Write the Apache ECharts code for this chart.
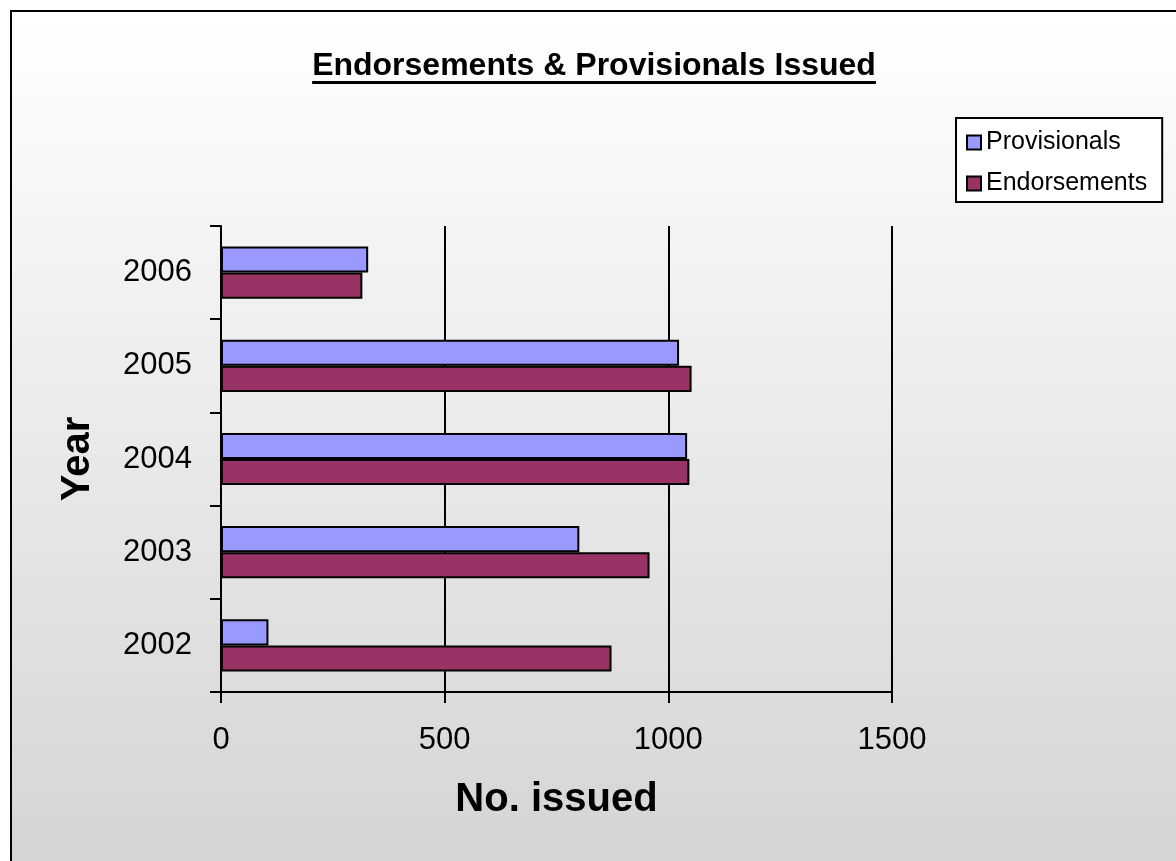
<!DOCTYPE html>
<html>
<head>
<meta charset="utf-8">
<style>
  html, body { margin: 0; padding: 0; background: #ffffff; }
  #chart { width: 1176px; height: 861px; }
</style>
<script src="https://cdn.jsdelivr.net/npm/echarts@6/dist/echarts.min.js"></script>
</head>
<body>
<div id="chart"></div>
<script>
// ---- Data ----
const years = ['2002', '2003', '2004', '2005', '2006'];
const provisionals = [106, 801, 1042, 1024, 329];
const endorsements = [873, 958, 1047, 1052, 316];
const xTicks = [0, 500, 1000, 1500];
const titleText = 'Endorsements & Provisionals Issued';

const FONT = '"Liberation Sans", Arial, sans-serif';

// measure title width for the underline
const mc = document.createElement('canvas').getContext('2d');
mc.font = 'bold 32px ' + FONT;
const titleW = mc.measureText(titleText).width;
const titleCX = 594;

const chart = echarts.init(document.getElementById('chart'), null, { renderer: 'canvas' });

chart.setOption({
  animation: false,
  backgroundColor: '#ffffff',
  graphic: [
    {
      type: 'rect', z: -10, silent: true,
      shape: { x: 11, y: 11, width: 1200, height: 900 },
      style: {
        fill: new echarts.graphic.LinearGradient(0, 0, 0, 1, [
          { offset: 0, color: '#ffffff' },
          { offset: 1, color: '#d2d2d2' }
        ]),
        stroke: '#000000', lineWidth: 2
      }
    },
    {
      type: 'text', z: 10,
      left: titleCX - titleW / 2, top: 50,
      style: { text: titleText, font: 'bold 32px ' + FONT, fill: '#000000' }
    },
    {
      type: 'rect', z: 10,
      shape: { x: titleCX - titleW / 2, y: 81, width: titleW, height: 3 },
      style: { fill: '#000000' }
    }
  ],
  legend: {
    data: ['Provisionals', 'Endorsements'],
    orient: 'vertical',
    left: 956, top: 118,
    padding: [12, 15, 6, 10],
    backgroundColor: '#ffffff',
    borderColor: '#000000', borderWidth: 2,
    itemWidth: 14, itemHeight: 14, itemGap: 16,
    itemTextGap: 9,
    icon: 'rect',
    itemStyle: { borderColor: '#000000', borderWidth: 2 },
    textStyle: { fontFamily: FONT, fontSize: 25, color: '#000000', lineHeight: 25 }
  },
  grid: { left: 221, right: 284, top: 226, bottom: 169, containLabel: false },
  xAxis: {
    type: 'value',
    min: xTicks[0], max: xTicks[xTicks.length - 1], interval: xTicks[1] - xTicks[0],
    name: 'No. issued', nameLocation: 'middle', nameGap: 88,
    nameTextStyle: { fontFamily: FONT, fontSize: 40, fontWeight: 'bold', color: '#000000', lineHeight: 40 },
    axisLine: { show: true, lineStyle: { color: '#000000', width: 2 } },
    axisTick: { show: true, length: 11, lineStyle: { color: '#000000', width: 2 } },
    axisLabel: {
      fontFamily: FONT, fontSize: 31, color: '#000000', margin: 33, lineHeight: 31,
      formatter: function (v) { return String(v); }
    },
    splitLine: { show: true, lineStyle: { color: '#000000', width: 2 } }
  },
  yAxis: {
    type: 'category',
    data: years,
    name: 'Year', nameLocation: 'middle', nameGap: 123, nameRotate: 90,
    nameTextStyle: { fontFamily: FONT, fontSize: 40, fontWeight: 'bold', color: '#000000', lineHeight: 40 },
    axisLine: { show: true, lineStyle: { color: '#000000', width: 2 } },
    axisTick: { show: true, length: 11, lineStyle: { color: '#000000', width: 2 } },
    axisLabel: { fontFamily: FONT, fontSize: 31, color: '#000000', margin: 29 },
    splitLine: { show: false }
  },
  series: [
    {
      name: 'Provisionals', type: 'bar', data: provisionals,
      barGap: '0%', barCategoryGap: '44%',
      itemStyle: { color: '#9999FF', borderColor: '#000000', borderWidth: 2 }
    },
    {
      name: 'Endorsements', type: 'bar', data: endorsements,
      barGap: '0%', barCategoryGap: '44%',
      itemStyle: { color: '#993366', borderColor: '#000000', borderWidth: 2 }
    }
  ]
});
</script>
</body>
</html>
